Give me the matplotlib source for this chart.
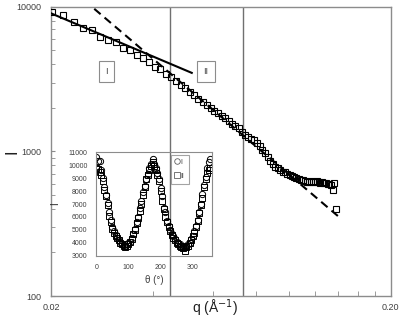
import numpy as np
import matplotlib
matplotlib.use("Agg")
import matplotlib.pyplot as plt
from matplotlib.lines import Line2D

plt.rcParams['font.family'] = ['Liberation Sans', 'DejaVu Sans']

# Main scattering curve (q in 1/A, intensity)
q_data = [0.0202, 0.02175, 0.0233, 0.02485, 0.0264, 0.02795, 0.0295, 0.03105,
          0.0326, 0.03415, 0.0357, 0.03725, 0.0388, 0.04035, 0.0419, 0.04345,
          0.045, 0.04655, 0.0481, 0.04965, 0.0512, 0.05275, 0.0543, 0.05585,
          0.0574, 0.05895, 0.0605, 0.06205, 0.0636, 0.06515, 0.0667, 0.06825,
          0.0698, 0.07135, 0.0729, 0.07445, 0.076, 0.07755, 0.0791, 0.08065,
          0.0822, 0.08375, 0.0853, 0.08685, 0.0884, 0.08995, 0.0915, 0.09305,
          0.0946, 0.09615, 0.0977, 0.09925, 0.1008, 0.10235, 0.1039, 0.10545,
          0.107, 0.10855, 0.1101, 0.11165, 0.1132, 0.11475, 0.1163, 0.11785,
          0.1194, 0.12095, 0.1225, 0.12405, 0.1256, 0.12715, 0.1287, 0.13025,
          0.1318, 0.13335, 0.1349, 0.13645, 0.138]
I_data = [9160, 8735, 7875, 7155, 6877, 6248, 5930, 5698,
          5219, 5000, 4617, 4422, 4176, 3825, 3735, 3422,
          3267, 3075, 2885, 2750, 2601, 2460, 2316, 2183,
          2098, 1984, 1907, 1832, 1761, 1692, 1613, 1562,
          1501, 1443, 1364, 1301, 1260, 1221, 1192, 1136,
          1083, 1024, 969, 916, 860, 813, 781, 763,
          745, 727, 716, 699, 688, 674, 663, 656,
          647, 640, 632, 625, 618, 618, 620, 618,
          615, 620, 618, 610, 615, 605, 610, 600,
          596, 586, 541, 610, 400]

# fitted power laws (end points)
fit1_q = [0.02, 0.0519]
fit1_I = [9040, 3500]
fit2_q = [0.025, 0.1406]
fit2_I = [11170, 353]

# region boundaries
q_bounds = [0.0448, 0.0734]

# inset: azimuthal profiles
theta = [0, 5, 10, 15, 20, 25, 30, 35, 40, 45, 50, 55, 60, 65, 70, 75, 80, 85,
         90, 95, 100, 105, 110, 115, 120, 125, 130, 135, 140, 145, 150, 155,
         160, 165, 170, 175, 180, 185, 190, 195, 200, 205, 210, 215, 220, 225,
         230, 235, 240, 245, 250, 255, 260, 265, 270, 275, 280, 285, 290, 295,
         300, 305, 310, 315, 320, 325, 330, 335, 340, 345, 350, 355]
I_region1 = [10600, 10300, 10300, 9600, 9000, 8300, 7700, 7100, 6400, 5800,
             5200, 4900, 4600, 4400, 4200, 4100, 3900, 3850, 3800, 3900, 4000,
             4100, 4400, 4700, 5100, 5600, 6000, 6700, 7200, 7900, 8400, 8900,
             9300, 9800, 10100, 10500, 10100, 9800, 9400, 8900, 8200, 7600,
             6700, 6400, 5700, 5300, 5000, 4700, 4500, 4300, 4100, 4000, 3900,
             3800, 3800, 3700, 3800, 3900, 4000, 4300, 4500, 4900, 5300, 5800,
             6400, 7000, 7800, 8500, 9100, 9800, 10200, 10500]
I_region2 = [9800, 9700, 9500, 9200, 8800, 8100, 7600, 6900, 6100, 5600,
             5100, 4800, 4500, 4400, 4200, 4000, 3900, 3800, 3700, 3800, 3900,
             4100, 4300, 4700, 5000, 5500, 5900, 6500, 7000, 7700, 8300, 8900,
             9200, 9600, 9900, 10200, 9900, 9600, 9200, 8800, 8000, 7200,
             6600, 6000, 5600, 5200, 4900, 4600, 4400, 4200, 4000, 3900, 3800,
             3700, 3600, 3400, 3700, 3800, 4000, 4200, 4500, 4800, 5200, 5700,
             6300, 6900, 7500, 8300, 8900, 9400, 9600, 9800]

frame_col = '#8c8c8c'
tick_col = '#404040'

fig = plt.figure(figsize=(4.08, 3.19), dpi=100)
ax = fig.add_axes([0.125, 0.0721, 0.833, 0.906])

for qb in q_bounds:
    ax.axvline(qb, color='#707070', lw=1.0, zorder=1)

ax.plot(fit1_q, fit1_I, color='black', lw=1.5, zorder=3)
ax.plot(fit2_q, fit2_I, color='black', lw=1.5, ls=(0, (4, 2.5)), zorder=3)
ax.plot(q_data, I_data, ls='none', marker='s', ms=5, mfc='none',
        mec='black', mew=0.8, zorder=4)

ax.set_xscale('log')
ax.set_yscale('log')
ax.set_xlim(0.02, 0.2)
ax.set_ylim(100, 10000)

ax.set_xticks([0.02, 0.2])
ax.set_xticklabels(['0.02', '0.20'])
ax.set_xticks([0.04, 0.06, 0.08, 0.10, 0.12, 0.14, 0.16, 0.18], minor=True)
ax.set_xticklabels([], minor=True)
ax.set_yticks([100, 1000, 10000])
ax.set_yticklabels(['100', '1000', '10000'])

ax.tick_params(axis='x', which='major', direction='in', length=0, pad=5,
               labelsize=6.5, labelcolor=tick_col)
ax.tick_params(axis='x', which='minor', direction='in', length=3.5,
               color=frame_col)
ax.tick_params(axis='y', which='both', direction='in', length=3,
               color=frame_col, labelsize=6.5, labelcolor=tick_col, pad=7)
ax.yaxis.set_minor_formatter(plt.NullFormatter())

for s in ax.spines.values():
    s.set_color(frame_col)
    s.set_linewidth(1.0)

ax.set_xlabel('q (Å$^{-1}$)', fontsize=10, color='#202020')
ax.xaxis.set_label_coords(0.482, -0.042)
ax.xaxis.label.set_va('center')
ax.set_ylabel('I', fontsize=12, color='#202020')
ax.yaxis.set_label_coords(-0.115, 0.5)
ax.yaxis.label.set_va('center')

box = dict(boxstyle='square,pad=0.7', fc='white', ec=frame_col, lw=0.8)
ax.text(0.163, 0.777, 'I', transform=ax.transAxes, ha='center', va='center',
        fontsize=6.5, color=tick_col, bbox=box, zorder=5)
ax.text(0.456, 0.777, 'II', transform=ax.transAxes, ha='center', va='center',
        fontsize=6.5, color=tick_col, bbox=box, zorder=5)

# inset
ins = fig.add_axes([0.2346, 0.1975, 0.285, 0.326])
ins.patch.set_alpha(0)
ins.plot(theta, I_region1, ls='none', marker='o', ms=4.5, mfc='none',
         mec='black', mew=0.7)
ins.plot(theta, I_region2, ls='none', marker='s', ms=4.2, mfc='none',
         mec='black', mew=0.7)
ins.set_xlim(-2, 360)
ins.set_ylim(3000, 11000)
ins.set_xticks([0, 100, 200, 300])
ins.set_yticks(range(3000, 11001, 1000))
ins.tick_params(length=0, labelsize=5, labelcolor=tick_col, pad=6)
for s in ins.spines.values():
    s.set_color(frame_col)
    s.set_linewidth(0.8)
ins.set_xlabel('θ (°)', fontsize=7, color=tick_col, labelpad=3)
ins.set_ylabel('I', fontsize=7, color='#202020', labelpad=6)

handles = [Line2D([], [], ls='none', marker='o', ms=4, mfc='none',
                  mec='#606060', mew=0.6),
           Line2D([], [], ls='none', marker='s', ms=4, mfc='none',
                  mec='#606060', mew=0.6)]
leg = ins.legend(handles, ['I', 'II'], loc='upper left',
                 bbox_to_anchor=(0.647, 0.975), fontsize=5, frameon=True,
                 fancybox=False, handlelength=0.6, handletextpad=0.2,
                 borderpad=0.6, labelspacing=1.0, borderaxespad=0)
leg.get_frame().set_edgecolor(frame_col)
leg.get_frame().set_linewidth(0.8)
for t in leg.get_texts():
    t.set_color(tick_col)

fig.savefig('out.png', dpi=100)
